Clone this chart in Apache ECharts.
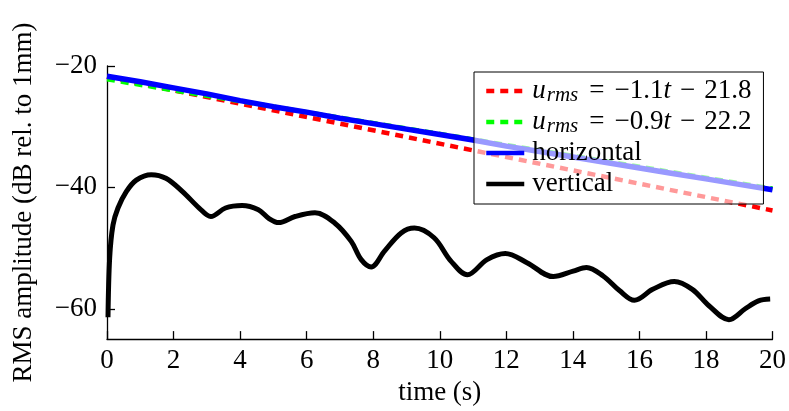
<!doctype html>
<html lang="en">
<head>
    <meta charset="UTF-8">
    <title>RMS amplitude over time</title>
    <script src="https://cdn.jsdelivr.net/npm/echarts@6/dist/echarts.min.js"></script>
    <style>
        html, body { margin: 0; padding: 0; background: #fff; }
        #chart { width: 789px; height: 411px; }
    </style>
</head>
<body>
<div id="chart"></div>
<script type="text/javascript">
    var FONT = '"Liberation Serif", "DejaVu Serif", serif';

    // axis ticks
    var xTicks = [0, 2, 4, 6, 8, 10, 12, 14, 16, 18, 20];
    var yTicks = [-60, -40, -20];

    // fitted lines (end points)
    var fitRedT = [0, 20];
    var fitRedV = [-21.8, -43.8];
    var fitGreenT = [0, 20];
    var fitGreenV = [-22.2, -40.2];

    // horizontal component
    var horizT = [0, 1, 2, 3, 4, 5, 6, 7, 8, 9, 10, 11, 12, 13, 14, 15, 16, 17, 18, 19, 20];
    var horizV = [-21.7, -22.6, -23.6, -24.6, -25.7, -26.7, -27.6, -28.6, -29.5, -30.4, -31.3,
                  -32.2, -33.2, -34.1, -35.0, -35.9, -36.8, -37.7, -38.6, -39.5, -40.4];

    // vertical component
    var vertT = [0.03, 0.08, 0.18, 0.33, 0.58, 0.88, 1.33, 1.77, 2.27, 2.77, 3.12, 3.56, 4.06, 4.55,
                 4.86, 5.16, 5.65, 6.25, 6.85, 7.34, 7.64, 7.94, 8.34, 8.84, 9.24, 9.83, 10.33, 10.83,
                 11.42, 11.97, 12.62, 13.41, 14.01, 14.41, 14.91, 15.40, 15.85, 16.40, 17.05, 17.59,
                 18.09, 18.69, 19.18, 19.58, 19.93];
    var vertV = [-61.4, -51.6, -46.2, -43.4, -40.7, -38.8, -37.9, -38.5, -40.7, -43.4, -44.8, -43.4, -43.0, -43.7,
                 -45.1, -45.8, -44.8, -44.2, -45.9, -48.9, -51.9, -53.1, -50.5, -47.5, -46.7, -48.3, -52.1, -54.4,
                 -51.9, -50.9, -52.4, -54.7, -53.8, -53.2, -54.6, -57.0, -58.6, -56.8, -55.5, -56.8,
                 -59.5, -61.8, -60.0, -58.7, -58.4];

    var seriesNames = ['fit1', 'fit2', 'horizontal', 'vertical'];
    var legendText = {
        'fit1': '{i|u}{s|rms}{op|=}{n|\u22121.1}{i|t}{bin|\u2212}{n|21.8}',
        'fit2': '{i|u}{s|rms}{op|=}{n|\u22120.9}{i|t}{bin|\u2212}{n|22.2}',
        'horizontal': 'horizontal',
        'vertical': 'vertical'
    };

    function pairs(t, v) {
        var out = [];
        for (var i = 0; i < t.length; i++) {
            out.push([t[i], v[i]]);
        }
        return out;
    }

    function minus(v) {
        return String(v).replace('-', '\u2212');
    }

    var chart = echarts.init(document.getElementById('chart'));

    var option = {
        animation: false,
        backgroundColor: '#fff',
        grid: {
            left: 107,
            right: 12,
            top: 66,
            bottom: 68
        },
        xAxis: {
            type: 'value',
            min: 0,
            max: 20,
            interval: 2,
            name: 'time (s)',
            nameLocation: 'middle',
            nameGap: 36,
            nameTextStyle: { fontFamily: FONT, fontSize: 27, color: '#000' },
            axisLine: { show: true, onZero: false, lineStyle: { color: '#000', width: 1.3 } },
            axisTick: { show: true, inside: true, length: 8, lineStyle: { color: '#000', width: 1.3 } },
            axisLabel: { fontFamily: FONT, fontSize: 27, color: '#000', margin: 8 },
            splitLine: { show: false }
        },
        yAxis: {
            type: 'value',
            min: -65,
            max: -20,
            name: 'RMS amplitude (dB rel. to 1mm)',
            nameLocation: 'middle',
            nameGap: 70,
            nameTextStyle: { fontFamily: FONT, fontSize: 27, color: '#000' },
            axisLine: { show: true, onZero: false, lineStyle: { color: '#000', width: 1.3 } },
            axisTick: { show: true, inside: true, length: 8, customValues: yTicks, lineStyle: { color: '#000', width: 1.3 } },
            axisLabel: {
                fontFamily: FONT, fontSize: 27, color: '#000', margin: 10,
                customValues: yTicks,
                formatter: function (v) { return minus(v); }
            },
            splitLine: { show: false }
        },
        legend: {
            orient: 'vertical',
            left: 474,
            top: 72,
            itemWidth: 38,
            itemHeight: 14,
            itemGap: 1,
            padding: [4, 12, 5, 10],
            backgroundColor: 'rgba(255,255,255,0.6)',
            borderColor: '#000',
            borderWidth: 1,
            borderRadius: 0,
            itemStyle: { opacity: 0 },
            lineStyle: { width: 4.5 },
            data: seriesNames,
            formatter: function (name) { return legendText[name]; },
            textStyle: {
                fontFamily: FONT,
                fontSize: 27,
                color: '#000',
                lineHeight: 30,
                padding: [0, 0, 0, 3],
                rich: {
                    i: { fontFamily: FONT, fontSize: 27, fontStyle: 'italic', lineHeight: 30 },
                    s: { fontFamily: FONT, fontSize: 21, fontStyle: 'italic', lineHeight: 30, verticalAlign: 'bottom', padding: [0, 5, 0, 1] },
                    op: { fontFamily: FONT, fontSize: 27, lineHeight: 30, padding: [0, 10, 0, 6] },
                    bin: { fontFamily: FONT, fontSize: 27, lineHeight: 30, padding: [0, 9, 0, 9] },
                    n: { fontFamily: FONT, fontSize: 27, lineHeight: 30 }
                }
            }
        },
        series: [
            {
                name: 'fit1',
                type: 'line',
                symbol: 'none',
                data: pairs(fitRedT, fitRedV),
                lineStyle: { color: '#ff0000', width: 4.5, type: [8, 6] },
                itemStyle: { color: '#ff0000' }
            },
            {
                name: 'fit2',
                type: 'line',
                symbol: 'none',
                data: pairs(fitGreenT, fitGreenV),
                lineStyle: { color: '#00ff00', width: 4.5, type: [8, 6] },
                itemStyle: { color: '#00ff00' }
            },
            {
                name: 'horizontal',
                type: 'line',
                symbol: 'none',
                data: pairs(horizT, horizV),
                lineStyle: { color: '#0000ff', width: 5.5 },
                itemStyle: { color: '#0000ff' }
            },
            {
                name: 'vertical',
                type: 'line',
                symbol: 'none',
                smooth: 0.35,
                data: pairs(vertT, vertV),
                lineStyle: { color: '#000', width: 5 },
                itemStyle: { color: '#000' }
            }
        ]
    };

    chart.setOption(option);
</script>
</body>
</html>
